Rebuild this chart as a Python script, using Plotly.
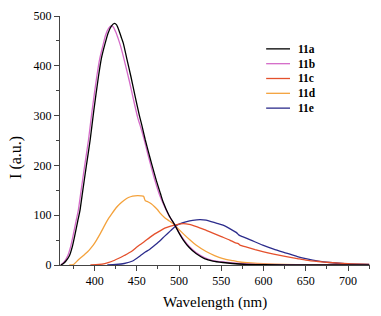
import plotly.graph_objects as go

# ---- data ----
names = ["11a", "11b", "11c", "11d", "11e"]
colors = ["#000000", "#d46ac8", "#e4502c", "#f4a23c", "#2c2c8c"]

wl_11a = [360, 363, 366, 370, 373.6, 376.6, 380, 382.5, 386, 390, 394.7, 399, 404.5, 408, 412.4,
          416, 420, 423.5, 426, 429, 432, 434, 438, 443, 448, 453, 456, 460, 464, 467.5, 473,
          478, 481, 488, 495, 500, 505, 512, 520, 530, 540, 552, 563, 580, 600, 650, 725]
i_11a = [0, 3, 8, 18, 37, 60, 88, 108, 150, 197, 251, 310, 378, 415, 445,
         466, 480, 485, 482, 470, 455, 445, 415, 378, 338, 300, 280, 251, 225, 203, 170,
         143, 127, 100, 80, 64, 50, 35, 23, 13, 8, 5, 3, 1, 0.5, 0, 0]

wl_11b = [360, 362, 365, 368, 371.6, 374.6, 378, 380.5, 384, 388, 392.7, 397, 402.5, 406, 410,
          413, 416.5, 419.5, 422, 425, 428, 431, 436, 441, 446, 451, 455, 458.8, 463, 466, 471,
          477, 481, 488, 495, 500, 505, 512, 520, 530, 540, 552, 563, 580, 600, 650, 725]
i_11b = [0, 3, 9, 18, 37, 60, 88, 108, 150, 197, 251, 310, 378, 414, 442,
         462, 475, 480, 478, 468, 454, 438, 405, 370, 332, 296, 274, 251, 222, 203, 172,
         140, 124, 99, 80, 65, 52, 37, 25, 15, 9, 6, 4, 2, 1, 0.3, 0]

wl_11c = [395, 405, 412, 420, 428, 435, 443.5, 450, 454, 459, 465, 470, 477, 483, 490, 497, 505,
          512, 520.6, 530, 540, 550, 560, 566, 570, 572, 580, 590, 599, 612, 627, 640, 650, 665,
          678, 700, 725]
i_11c = [0, 1, 3, 7, 13, 19, 27, 36, 41, 47, 55, 61, 68, 74, 78, 81, 83,
         81.5, 77, 71, 64, 57, 50, 45, 43, 40, 36, 31, 27, 22, 17, 13, 10, 7,
         5, 2.5, 1]

wl_11d = [370, 375, 380.5, 386, 392, 396, 400, 406, 412, 416, 420, 425, 430, 435, 440, 445, 451,
          455, 458, 459, 460, 463, 467, 471, 475, 477, 483, 488, 495, 500, 506, 513, 520, 532,
          542, 552, 563, 572, 585, 600, 625, 650, 725]
i_11d = [0, 1, 10, 18, 27, 35, 44, 61, 80, 92, 102, 114, 123, 130, 135.5, 138.5, 139.5,
         139, 138, 133, 129, 127, 123, 117, 110, 105, 95, 89, 80, 71, 61, 50, 40, 27,
         19, 13, 9, 6, 4, 2.5, 1, 0.5, 0]

wl_11e = [415, 425, 435, 445, 453.7, 460, 465, 470, 475, 483, 490, 495, 500, 509, 516, 524.6, 532,
          544, 552, 563, 568, 571, 575, 585, 599, 612, 627, 640, 650, 665, 678, 700, 725]
i_11e = [0, 1, 3, 8, 18, 26, 31, 38, 45, 58, 69, 77, 82, 87, 89.5, 91, 90,
         84, 80, 70, 65, 60, 57, 50, 40, 32, 24, 17, 13, 8, 5, 2, 1]

series_x = [wl_11a, wl_11b, wl_11c, wl_11d, wl_11e]
series_y = [i_11a, i_11b, i_11c, i_11d, i_11e]

x_title = "Wavelength (nm)"
y_title = "I (a.u.)"
x_range = [359, 726]
y_range = [0, 500]

FONT = "'Liberation Serif', 'Times New Roman', serif"

fig = go.Figure()
# draw order: back to front so black is on top of pink
order = [4, 3, 2, 1, 0]
for k in order:
    fig.add_trace(go.Scatter(x=series_x[k], y=series_y[k], mode="lines", name=names[k],
                             line=dict(color=colors[k], width=1.3, shape="spline", smoothing=0.6),
                             showlegend=False, hoverinfo="skip"))

# custom compact legend
lx0, lx1, ltx = 0.665, 0.742, 0.762
ly0, lstep = 0.868, 0.0595
shapes = []
annotations = []
for k, nm in enumerate(names):
    yy = ly0 - k * lstep
    shapes.append(dict(type="line", xref="paper", yref="paper", x0=lx0, x1=lx1, y0=yy, y1=yy,
                       line=dict(color=colors[k], width=1.3)))
    annotations.append(dict(xref="paper", yref="paper", x=ltx, y=yy, text="<b>%s</b>" % nm,
                            showarrow=False, xanchor="left", yanchor="middle",
                            font=dict(family=FONT, size=11.5, color="#000")))

# y-axis title as annotation (placed slightly below centre, as in the reference)
annotations.append(dict(xref="paper", yref="paper", x=0, xshift=-44, y=0.43, text=y_title,
                        textangle=-90, showarrow=False, xanchor="center", yanchor="middle",
                        font=dict(family=FONT, size=16, color="#000")))

# x-axis title as annotation, fixed below the tick labels
annotations.append(dict(xref="paper", yref="paper", x=0.5, y=0, yshift=-37, text=x_title,
                        showarrow=False, xanchor="center", yanchor="middle",
                        font=dict(family=FONT, size=15, color="#000")))

fig.update_layout(
    width=381, height=316,
    margin=dict(l=60, r=11, t=16, b=51),
    paper_bgcolor="white", plot_bgcolor="white",
    font=dict(family=FONT, size=12, color="#000"),
    shapes=shapes, annotations=annotations,
    showlegend=False,
)
fig.update_xaxes(range=x_range, dtick=50, tick0=400, ticks="outside", ticklen=5, tickwidth=1,
                 tickcolor="#444", showline=True, linecolor="#444", linewidth=1, showgrid=False,
                 zeroline=False, tickfont=dict(family=FONT, size=12), automargin=False,
                 minor=dict(dtick=25, tick0=400, ticks="outside", ticklen=3, tickcolor="#444"))
fig.update_yaxes(range=y_range, dtick=100, ticks="outside", ticklen=5, tickwidth=1,
                 tickcolor="#444", showline=True, linecolor="#444", linewidth=1, showgrid=False,
                 zeroline=False, tickfont=dict(family=FONT, size=12), automargin=False,
                 minor=dict(dtick=50, ticks="outside", ticklen=3, tickcolor="#444"))

fig.write_html("out.html", config={"displayModeBar": False},
               post_script="document.body.style.margin='0';")
